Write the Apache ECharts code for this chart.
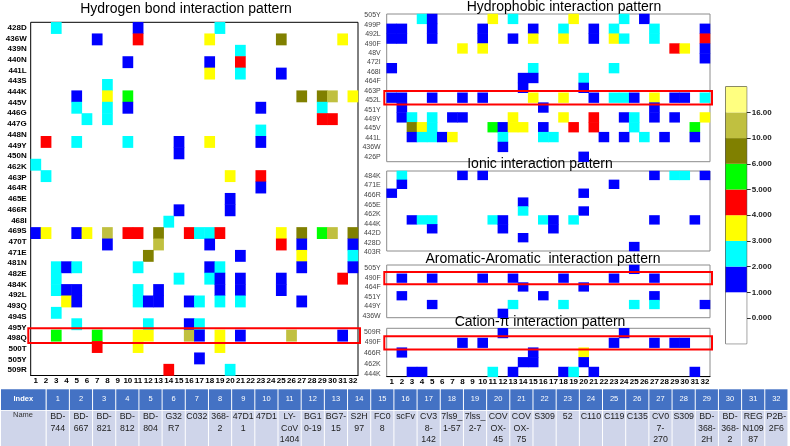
<!DOCTYPE html>
<html><head><meta charset="utf-8">
<script src="https://cdn.jsdelivr.net/npm/echarts@6/dist/echarts.min.js"></script>
<style>html,body{margin:0;padding:0;background:#fff}#c{width:790px;height:446px}</style>
</head><body><div id="c"></div>
<script>
// value codes (legend classes)
const B=1.5, C=2.5, Y=3.5, R=4.5, G=5.5, O=8, K=13;

const colLabels = ['1','2','3','4','5','6','7','8','9','10','11','12','13','14','15','16','17','18','19','20','21','22','23','24','25','26','27','28','29','30','31','32'];

// Hydrogen bond panel
const hbLabels = ['428D','436W','439N','440N','441L','443S','444K','445V','446G','447G','448N','449Y','450N','462K','463P','464R','465E','466R','468I','469S','470T','471E','481N','482E','484K','492L','493Q','494S','495Y','498Q','500T','505Y','509R'];
const hbCells = [
 [[3,C],[11,B],[19,C]],
 [[7,B],[11,R],[18,Y],[25,O],[31,Y]],
 [[21,C]],
 [[10,B],[18,B],[21,R]],
 [[18,Y],[21,C],[25,B]],
 [[8,C]],
 [[5,B],[8,Y],[10,G],[27,O],[29,O],[30,K],[32,Y]],
 [[5,C],[8,C],[10,B],[23,B],[29,C]],
 [[6,C],[8,C],[29,R],[30,R]],
 [[23,C]],
 [[2,R],[5,C],[10,C],[15,B],[18,Y],[23,B]],
 [[15,B]],
 [[1,C]],
 [[2,C],[20,Y],[23,R]],
 [[23,B]],
 [[20,B]],
 [[15,B],[20,B]],
 [[14,C]],
 [[1,B],[2,Y],[5,B],[6,Y],[8,K],[10,R],[11,R],[13,O],[16,R],[17,C],[18,C],[19,R],[25,Y],[27,O],[29,G],[30,K],[32,O]],
 [[8,B],[13,K],[18,B],[25,R],[27,B],[32,B]],
 [[12,O],[21,B],[27,Y],[32,C]],
 [[3,C],[4,B],[5,C],[11,C],[18,B],[19,C],[27,B],[32,B]],
 [[3,C],[15,C],[18,C],[19,B],[21,B],[25,B],[31,R]],
 [[3,C],[4,B],[5,B],[11,C],[13,B],[19,B],[21,B],[25,B]],
 [[4,Y],[5,B],[11,C],[12,B],[13,B],[16,B],[17,C],[19,C],[21,C],[27,B]],
 [[3,C]],
 [[5,C],[12,C],[16,B],[17,C]],
 [[3,G],[7,G],[11,Y],[12,Y],[16,K],[17,B],[19,Y],[21,B],[26,K],[31,B]],
 [[7,R],[11,Y],[19,Y]],
 [[17,B]],
 [[14,R],[20,C]]
];

// Hydrophobic panel
const hpLabels = ['505Y','499P','492L','490F','48V','472I','468I','464F','463P','452L','451Y','449Y','445V','441L','436W','426P'];
const hpCells = [
 [[4,C],[5,B],[11,Y],[13,C],[19,Y],[24,C],[26,B]],
 [[1,B],[2,B],[5,B],[10,B],[15,B],[18,C],[21,B],[23,C],[27,C],[32,B]],
 [[1,B],[2,B],[5,B],[10,B],[13,B],[15,Y],[18,Y],[21,B],[23,Y],[24,C],[27,C],[32,R]],
 [[8,Y],[10,Y],[29,R],[30,Y],[32,B]],
 [[32,B]],
 [[1,B],[15,C],[23,C]],
 [[14,B],[15,B],[20,C]],
 [[14,B],[20,B]],
 [[1,B],[2,B],[5,B],[8,B],[10,B],[15,Y],[18,Y],[21,B],[23,C],[24,C],[25,B],[27,Y],[29,B],[30,B],[32,C]],
 [[2,B],[16,B],[27,B]],
 [[2,B],[3,C],[5,C],[7,B],[8,B],[13,Y],[18,Y],[21,R],[24,B],[25,C],[27,B],[29,B],[32,Y]],
 [[3,O],[4,Y],[5,C],[11,G],[12,B],[13,Y],[14,Y],[16,B],[19,R],[21,R],[25,C],[31,G]],
 [[3,B],[4,C],[5,C],[6,B],[7,Y],[12,C],[16,C],[17,C],[22,B],[24,B],[26,C],[28,B],[31,B]],
 [[12,B]],
 [[20,B]]
];

// Ionic panel
const ionLabels = ['484K','471E','466R','465E','462K','444K','442D','428D','403R'];
const ionCells = [
 [[2,C],[8,B],[10,B],[27,B],[29,C],[30,C],[32,B]],
 [[2,B],[23,B]],
 [[1,B],[20,B]],
 [[14,B]],
 [[14,C],[20,B]],
 [[3,B],[4,C],[5,C],[11,C],[12,B],[16,C],[17,B],[19,C],[27,B],[31,B]],
 [[5,B],[12,B],[17,B]],
 [[14,B]],
 [[25,B]]
];

// Aromatic-Aromatic panel
const aroLabels = ['505Y','490F','464F','451Y','449Y','436W'];
const aroCells = [
 [[25,B]],
 [[2,B],[5,B],[10,B],[13,B],[18,B],[23,B],[27,B]],
 [[14,B],[20,B]],
 [[2,B],[16,B],[27,B]],
 [[5,B],[13,C],[18,C],[25,C],[27,C],[32,B]],
 [[12,B]]
];

// Cation-pi panel
const catLabels = ['509R','490F','466R','462K','444K'];
const catCells = [
 [[12,B],[24,B]],
 [[8,B],[10,B],[23,B],[27,B],[29,B],[30,B]],
 [[2,B],[15,B],[20,Y]],
 [[14,B],[15,B],[20,B]],
 [[3,B],[4,B],[11,C],[13,B],[18,B],[19,C],[21,B],[31,B]]
];

const titles = ['Hydrogen bond interaction pattern','Hydrophobic interaction pattern','Ionic interaction pattern','Aromatic-Aromatic  interaction pattern','Cation-π interaction pattern'];

// highlighted rows (panel index, cell row)
const highlightRows = [[0,27],[1,8],[3,1],[4,1]];

// legend (bottom to top)
const legendColors = ['#FFFFFF','#FFFFFF','#0000FF','#00FFFF','#FFFF00','#FF0000','#00FF00','#808000','#C0C040','#FFFF80'];
const legendTicks = ['0.000','1.000','2.000','3.000','4.000','5.000','6.000','10.00','16.00'];
const legendTickPos = [1,2,3,4,5,6,7,8,9];

// table
const tableHeader = 'Index';
const tableRowName = 'Name';
const tableIndex = colLabels;
const tableNames = ['BD-\n744','BD-\n667','BD-\n821','BD-\n812','BD-\n804','G32\nR7','C032','368-\n2','47D1\n1','47D1','LY-\nCoV\n1404','BG1\n0-19','BG7-\n15','S2H\n97','FC0\n8','scFv','CV3\n8-\n142','7ls9_\n1-57','7lss_\n2-7','COV\nOX-\n45','COV\nOX-\n75','S309','52','C110','C119','C135','CV0\n7-\n270','S309','BD-\n368-\n2H','BD-\n368-\n2','REG\nN109\n87','P2B-\n2F6'];

// ---------- layout ----------
const FONT = 'Liberation Sans, Arial, sans-serif';
const panels = [
 {cells:hbCells, labels:hbLabels, box:[30.7,22.3,327.3,353.2], lab:[22.3,353.2], frame:'#000', showX:true, lf:8, lb:'bold', lc:'#000', lm:4, title:[186,9]},
 {cells:hpCells, labels:hpLabels, box:[386.7,14,323.3,147.7], lab:[10.6,150.9], frame:'#8c8c8c', showX:false, lf:7, lb:'normal', lc:'#444', lm:6, title:[564,7]},
 {cells:ionCells, labels:ionLabels, box:[386.7,171,323.3,80], lab:[171.2,85.9], frame:'#8c8c8c', showX:false, lf:7, lb:'normal', lc:'#444', lm:6, title:[540,164]},
 {cells:aroCells, labels:aroLabels, box:[386.7,265,323.3,52.7], lab:[263.6,56.9], frame:'#8c8c8c', showX:false, lf:7, lb:'normal', lc:'#444', lm:6, title:[543,259]},
 {cells:catCells, labels:catLabels, box:[386.7,328.3,323.3,48.4], lab:[326.4,53.25], frame:'#8c8c8c', showX:true, lf:7, lb:'normal', lc:'#444', lm:6, title:[540,322]}
];

const grid=[], xAxis=[], yAxis=[], series=[];
panels.forEach((p,i)=>{
  const rowIds = p.cells.map((_,k)=>'r'+k);
  grid.push({left:p.box[0], top:p.box[1], width:p.box[2], height:p.box[3], show:true, borderColor:p.frame, borderWidth:1, backgroundColor:'#fff'});
  grid.push({left:p.box[0], top:p.lab[0], width:p.box[2], height:p.lab[1], show:false});
  xAxis.push({type:'category', gridIndex:2*i, data:colLabels, position:'bottom',
    axisLine:{show:p.showX, lineStyle:{color:'#000', width:1}}, axisTick:{show:false}, splitLine:{show:false},
    axisLabel:{show:p.showX, interval:0, fontSize:8, fontWeight:'bold', color:'#000', margin:1.5, fontFamily:FONT}});
  xAxis.push({type:'category', gridIndex:2*i+1, data:colLabels, show:false});
  yAxis.push({type:'category', gridIndex:2*i, data:rowIds, inverse:true, show:false});
  yAxis.push({type:'category', gridIndex:2*i+1, data:p.labels, inverse:true,
    axisLine:{show:false}, axisTick:{show:false}, splitLine:{show:false},
    axisLabel:{interval:0, fontSize:p.lf, fontWeight:p.lb, color:p.lc, margin:p.lm, fontFamily:FONT}});
  const data=[];
  p.cells.forEach((row,k)=>row.forEach(([c,v])=>data.push([c-1,k,v])));
  series.push({type:'heatmap', xAxisIndex:2*i, yAxisIndex:2*i, data, itemStyle:{borderWidth:0}, emphasis:{disabled:true}, silent:true, progressive:0, animation:false});
});

// legend grid (index 10)
grid.push({left:725.7, top:86.7, width:21, height:257, show:true, borderColor:'#333', borderWidth:1});
xAxis.push({type:'category', gridIndex:10, data:['k'], show:false});
yAxis.push({type:'value', gridIndex:10, min:0, max:10, interval:1, position:'right',
  axisLine:{show:false}, splitLine:{show:false},
  axisTick:{show:true, length:4, customValues:legendTickPos, lineStyle:{color:'#333'}},
  axisLabel:{customValues:legendTickPos, formatter:(v)=>legendTicks[legendTickPos.indexOf(v)]||'', fontSize:8, fontWeight:'bold', color:'#222', margin:5, fontFamily:FONT}});
legendColors.forEach((col)=>{
  series.push({type:'bar', xAxisIndex:10, yAxisIndex:10, stack:'lg', data:[1], barWidth:'100%', itemStyle:{color:col}, silent:true, animation:false});
});

const option = {
  animation:false,
  textStyle:{fontFamily:FONT},
  grid, xAxis, yAxis, series,
  visualMap:{type:'piecewise', show:false, dimension:2, seriesIndex:[0,1,2,3,4],
    pieces:[
      {gte:1, lt:2, color:legendColors[2]},
      {gte:2, lt:3, color:legendColors[3]},
      {gte:3, lt:4, color:legendColors[4]},
      {gte:4, lt:5, color:legendColors[5]},
      {gte:5, lt:6, color:legendColors[6]},
      {gte:6, lt:10, color:legendColors[7]},
      {gte:10, lt:16, color:legendColors[8]},
      {gte:16, color:legendColors[9]}
    ]}
};

const chart = echarts.init(document.getElementById('c'), null, {renderer:'canvas', width:790, height:446});
chart.setOption(option);

const els = [];
// titles
panels.forEach((p,i)=>{
  els.push({type:'text', silent:true, style:{text:titles[i], x:p.title[0], y:p.title[1], align:'center', verticalAlign:'middle', fontSize:14, fontFamily:FONT, fill:'#000'}});
});
// highlight boxes via axis scales
highlightRows.forEach(([pi,row])=>{
  const f = {xAxisIndex:2*pi, yAxisIndex:2*pi};
  const a = chart.convertToPixel(f,[0,row]);
  const b = chart.convertToPixel(f,[31,row]);
  const nrow = panels[pi].cells.length;
  const o = chart.convertToPixel(f,[0, row+1<nrow?row+1:row-1]);
  const bw = (b[0]-a[0])/31, bh = Math.abs(o[1]-a[1]);
  els.push({type:'rect', silent:true, z:100, shape:{x:a[0]-bw/2-2.4, y:a[1]-bh/2-1.8, width:(b[0]-a[0])+bw+4.4, height:bh+3.6},
    style:{fill:'none', stroke:'#FF0000', lineWidth:2}});
});
// table
const tx0=46.7, tw=23.18, hy=389.3, hh=20.7, ny=410.8, nh=35.2;
els.push({type:'rect', silent:true, shape:{x:1,y:hy,width:44.6,height:hh}, style:{fill:'#4472C4'}});
els.push({type:'text', silent:true, style:{text:tableHeader, x:13.5, y:hy+hh/2-1, verticalAlign:'middle', fill:'#fff', fontSize:7.5, fontWeight:'bold', fontFamily:FONT}});
els.push({type:'rect', silent:true, shape:{x:1,y:ny,width:44.6,height:nh}, style:{fill:'#CFD5EA'}});
els.push({type:'text', silent:true, style:{text:tableRowName, x:13, y:414.5, verticalAlign:'middle', fill:'#333', fontSize:7.5, fontFamily:FONT}});
tableIndex.forEach((t,i)=>{
  const x = tx0 + i*tw;
  els.push({type:'rect', silent:true, shape:{x:x,y:hy,width:tw-1,height:hh}, style:{fill:'#4472C4'}});
  els.push({type:'text', silent:true, style:{text:t, x:x+(tw-1)/2, y:hy+hh/2-1, align:'center', verticalAlign:'middle', fill:'#fff', fontSize:7.5, fontFamily:FONT}});
  els.push({type:'rect', silent:true, shape:{x:x,y:ny,width:tw-1,height:nh}, style:{fill:'#CFD5EA'}});
  els.push({type:'text', silent:true, style:{text:tableNames[i], x:x+(tw-1)/2, y:ny+0.5, align:'center', verticalAlign:'top', fill:'#222', fontSize:8.8, lineHeight:11.3, fontFamily:FONT}});
});
chart.setOption({graphic:{elements:els}});
</script>
</body></html>
